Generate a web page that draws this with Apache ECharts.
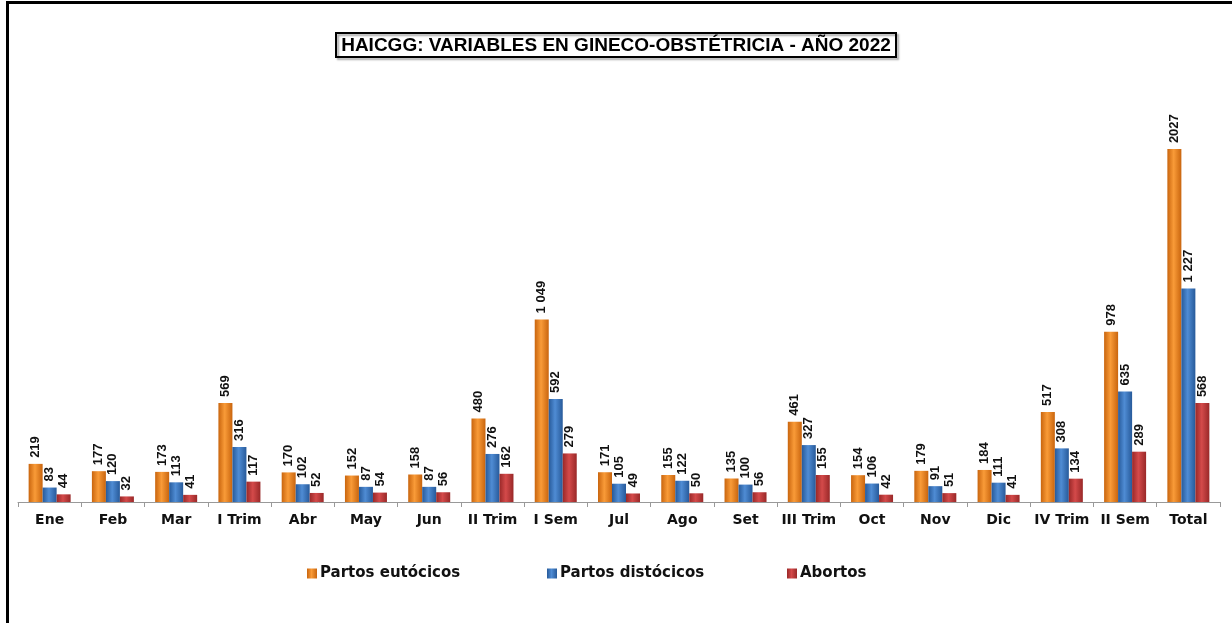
<!DOCTYPE html>
<html>
<head>
<meta charset="utf-8">
<script src="https://cdn.jsdelivr.net/npm/echarts@6/dist/echarts.min.js"></script>
<style>
  html,body{margin:0;padding:0;background:#fff;}
  #chart{position:absolute;left:0;top:0;width:1232px;height:623px;}
  .frame{position:absolute;left:6px;top:1px;width:1240px;height:640px;border-left:3px solid #000;border-top:3px solid #000;pointer-events:none;}
</style>
</head>
<body>
<div id="chart"></div>
<div class="frame"></div>
<script>
const categories=['Ene','Feb','Mar','I Trim','Abr','May','Jun','II Trim','I Sem','Jul','Ago','Set','III Trim','Oct','Nov','Dic','IV Trim','II Sem','Total'];
const eutocicos=[219,177,173,569,170,152,158,480,1049,171,155,135,461,154,179,184,517,978,2027];
const distocicos=[83,120,113,316,102,87,87,276,592,105,122,100,327,106,91,111,308,635,1227];
const abortos=[44,32,41,117,52,54,56,162,279,49,50,56,155,42,51,41,134,289,568];
const seriesNames=['Partos eutócicos','Partos distócicos','Abortos'];

const myChart=echarts.init(document.getElementById('chart'));

function grad(edge,mid){
    return new echarts.graphic.LinearGradient(0,0,1,0,[
        {offset:0,color:edge},
        {offset:0.45,color:mid},
        {offset:1,color:edge}
    ]);
}
function fmt(p){
    const v=p.value;
    if(v>=1000&&v<2000){
        return Math.floor(v/1000)+' '+String(v%1000).padStart(3,'0');
    }
    return String(v);
}
const labelOpt={
    show:true,
    position:'top',
    rotate:90,
    align:'left',
    verticalAlign:'middle',
    distance:6,
    formatter:fmt,
    color:'#111',
    fontFamily:'Liberation Sans',
    fontWeight:'bold',
    fontSize:13
};
function makeSeries(name,data,edge,mid){
    return {
        name:name,
        type:'bar',
        data:data,
        barWidth:14,
        barGap:'0%',
        itemStyle:{color:grad(edge,mid)},
        label:labelOpt
    };
}
function makeLegend(name,left){
    return {
        data:[name],
        left:left,
        top:566,
        padding:0,
        icon:'rect',
        itemWidth:10,
        itemHeight:10,
        itemGap:0,
        selectedMode:false,
        textStyle:{
            color:'#111',
            fontFamily:'DejaVu Sans',
            fontWeight:'bold',
            fontSize:15,
            padding:[0,0,0,-2]
        }
    };
}

const option={
    animation:false,
    color:['#F08A22','#3F78C0','#C03838'],
    title:{
        text:'HAICGG: VARIABLES EN GINECO-OBSTÉTRICIA - AÑO 2022',
        left:'center',
        top:33,
        borderColor:'#000',
        borderWidth:2,
        padding:[3,5,2,5],
        shadowColor:'rgba(0,0,0,0.35)',
        shadowOffsetX:2,
        shadowOffsetY:2,
        shadowBlur:2,
        textStyle:{
            fontFamily:'Liberation Sans',
            fontWeight:'bold',
            fontSize:19,
            color:'#000'
        }
    },
    legend:[
        makeLegend(seriesNames[0],307),
        makeLegend(seriesNames[1],547),
        makeLegend(seriesNames[2],787)
    ],
    grid:{left:18,right:12,top:119,bottom:121},
    xAxis:{
        type:'category',
        data:categories,
        axisLine:{lineStyle:{color:'#999',width:1}},
        axisTick:{show:true,length:5,lineStyle:{color:'#999'}},
        axisLabel:{
            margin:11,
            color:'#111',
            fontFamily:'DejaVu Sans',
            fontWeight:'bold',
            fontSize:14,
            interval:0
        }
    },
    yAxis:{
        type:'value',
        min:0,
        max:2200,
        show:false
    },
    series:[
        makeSeries(seriesNames[0],eutocicos,'#C9650E','#F99B38'),
        makeSeries(seriesNames[1],distocicos,'#275A9A','#4F8CD4'),
        makeSeries(seriesNames[2],abortos,'#992828','#D44A4A')
    ]
};
myChart.setOption(option);
</script>
</body>
</html>
